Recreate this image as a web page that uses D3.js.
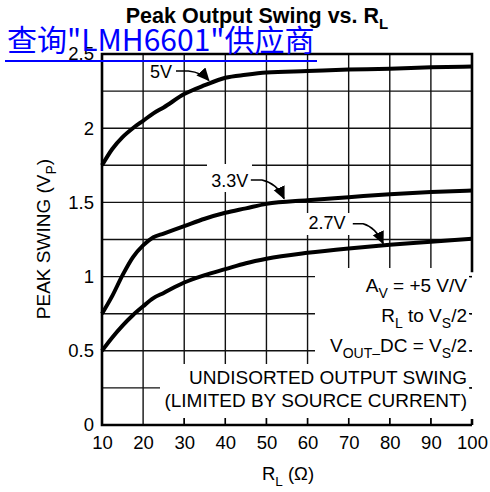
<!DOCTYPE html>
<html>
<head>
<meta charset="utf-8">
<script src="https://cdn.jsdelivr.net/npm/d3@7"></script>
<style>
  body { margin: 0; background: #fff; }
  text { font-family: "Liberation Sans", Arial, Helvetica, sans-serif; fill: #000; }
</style>
</head>
<body>
<script>
// load resistance (ohm) and peak swing (V) per supply voltage
var rl       = [10, 12.5, 15, 17.5, 20, 22.5, 25, 30, 35, 40, 45, 50, 60, 70, 80, 90, 100];
var swing5V  = [1.75, 1.86, 1.94, 2.00, 2.05, 2.10, 2.14, 2.23, 2.29, 2.34, 2.36, 2.375, 2.385, 2.395, 2.40, 2.41, 2.415];
var swing33V = [0.75, 0.87, 1.01, 1.13, 1.21, 1.265, 1.29, 1.34, 1.39, 1.43, 1.46, 1.49, 1.515, 1.535, 1.555, 1.57, 1.58];
var swing27V = [0.50, 0.59, 0.67, 0.74, 0.80, 0.855, 0.89, 0.96, 1.01, 1.05, 1.09, 1.12, 1.16, 1.19, 1.215, 1.235, 1.255];
var seriesNames = ["5V", "3.3V", "2.7V"];

var xTicks = [10, 20, 30, 40, 50, 60, 70, 80, 90, 100];
var yTicks = [0, 0.5, 1, 1.5, 2, 2.5];
var yGrid  = [0.25, 0.5, 0.75, 1, 1.25, 1.5, 1.75, 2, 2.25];
var rightTicks = [0.25, 0.5, 0.75, 1];
var bottomTicks = [30, 40, 50, 60, 70, 80, 90];

var width = 490, height = 492;
var pLeft = 102, pRight = 472, pTop = 54, pBottom = 425;

var svg = d3.select("body").append("svg")
    .attr("width", width)
    .attr("height", height);

var x = d3.scaleLinear().domain([10, 100]).range([pLeft, pRight]);
var y = d3.scaleLinear().domain([0, 2.5]).range([pBottom, pTop]);

var defs = svg.append("defs");
defs.append("marker")
    .attr("id", "arrow")
    .attr("markerUnits", "userSpaceOnUse")
    .attr("markerWidth", 14).attr("markerHeight", 14)
    .attr("refX", 12).attr("refY", 6)
    .attr("orient", "auto")
  .append("path")
    .attr("d", "M0,0 L13,6 L0,12 Z")
    .attr("fill", "#000");

// grid
var grid = svg.append("g").attr("stroke", "#111").attr("stroke-width", 1.4);
grid.selectAll(".vg").data(xTicks.slice(1, -1)).enter().append("line")
    .attr("x1", d => x(d)).attr("x2", d => x(d))
    .attr("y1", pTop).attr("y2", pBottom);
grid.selectAll(".hg").data(yGrid).enter().append("line")
    .attr("x1", pLeft).attr("x2", pRight)
    .attr("y1", d => y(d)).attr("y2", d => y(d));

// white areas behind labels and notes
var masks = [
  [315, 268, 470, 418],
  [160, 364, 470, 418],
  [207, 164, 252, 192],
  [305, 213, 352, 235]
];
svg.append("g").selectAll("rect").data(masks).enter().append("rect")
    .attr("x", d => d[0]).attr("y", d => d[1])
    .attr("width", d => d[2] - d[0]).attr("height", d => d[3] - d[1])
    .attr("fill", "#fff");

// frame
var frame = svg.append("g").attr("stroke", "#000").attr("stroke-width", 2.6).attr("fill", "none");
frame.append("path")
    .attr("d", "M" + pRight + "," + y(1.03) + " L" + pRight + "," + pTop + " L" + pLeft + "," + pTop +
               " L" + pLeft + "," + pBottom + " L" + pRight + "," + pBottom);
frame.append("line").attr("x1", pRight).attr("x2", pRight).attr("y1", pBottom).attr("y2", pBottom - 6);
svg.append("g").attr("stroke", "#000").attr("stroke-width", 1.4)
  .selectAll("line").data(bottomTicks).enter().append("line")
    .attr("x1", d => x(d)).attr("x2", d => x(d))
    .attr("y1", pBottom).attr("y2", pBottom - 7);
svg.append("g").attr("stroke", "#000").attr("stroke-width", 1.4)
  .selectAll("line").data(rightTicks).enter().append("line")
    .attr("x1", pRight).attr("x2", pRight - 3)
    .attr("y1", d => y(d)).attr("y2", d => y(d));

// axes labels
var xAxis = svg.append("g")
    .attr("transform", "translate(0," + pBottom + ")")
    .call(d3.axisBottom(x).tickValues(xTicks).tickSize(0).tickPadding(11));
xAxis.select(".domain").remove();
xAxis.selectAll("text").attr("font-size", 18.5).attr("font-family", null);

var yAxis = svg.append("g")
    .attr("transform", "translate(" + pLeft + ",0)")
    .call(d3.axisLeft(y).tickValues(yTicks).tickSize(0).tickPadding(8)
      .tickFormat(d => d));
yAxis.select(".domain").remove();
yAxis.selectAll("text").attr("font-size", 18.5).attr("font-family", null);

// curves
var line = d3.line()
    .x(d => x(d[0]))
    .y(d => y(d[1]))
    .curve(d3.curveMonotoneX);
[swing5V, swing33V, swing27V].forEach(function(s) {
  svg.append("path")
      .datum(rl.map((r, i) => [r, s[i]]))
      .attr("d", line)
      .attr("fill", "none")
      .attr("stroke", "#000")
      .attr("stroke-width", 4)
      .attr("stroke-linejoin", "round");
});

// curve labels with arrows (data coordinates)
var curveLabels = [
  { text: seriesNames[0], tx: 21.7, ty: 2.335, arrow: [[28.0, 2.385], [31.0, 2.385], [34.3, 2.375], [36.0, 2.322]] },
  { text: seriesNames[1], tx: 36.6, ty: 1.605, arrow: [[46.2, 1.651], [48.9, 1.651], [52.6, 1.628], [54.3, 1.525]] },
  { text: seriesNames[2], tx: 60.2, ty: 1.322, arrow: [[71.0, 1.356], [73.5, 1.356], [76.6, 1.332], [78.4, 1.222]] }
];
curveLabels.forEach(function(c) {
  svg.append("text")
      .attr("x", x(c.tx)).attr("y", y(c.ty))
      .attr("font-size", 18)
      .text(c.text);
  var p = c.arrow.map(d => [x(d[0]), y(d[1])]);
  svg.append("path")
      .attr("d", "M" + p[0] + " L" + p[1] + " Q" + p[2] + " " + p[3])
      .attr("fill", "none")
      .attr("stroke", "#000")
      .attr("stroke-width", 1.6)
      .attr("marker-end", "url(#arrow)");
});

// notes, right aligned
var noteX = 467;
function rich(sel, parts, size, subSize) {
  var shift = 0;
  parts.forEach(function(p) {
    var sub = p[1] === 1;
    var target = sub ? 6 : 0;
    sel.append("tspan")
        .attr("dy", target - shift)
        .attr("font-size", sub ? subSize : size)
        .text(p[0]);
    shift = target;
  });
}
var notes = [
  { y: 292, parts: [["A", 0], ["V", 1], [" = +5 V/V", 0]] },
  { y: 322, parts: [["R", 0], ["L", 1], [" to V", 0], ["S", 1], ["/2", 0]] },
  { y: 352, parts: [["V", 0], ["OUT–", 1], ["DC = V", 0], ["S", 1], ["/2", 0]] },
  { y: 384, parts: [["UNDISORTED OUTPUT SWING", 0]] },
  { y: 407, parts: [["(LIMITED BY SOURCE CURRENT)", 0]] }
];
notes.forEach(function(n) {
  var t = svg.append("text")
      .attr("x", noteX).attr("y", n.y)
      .attr("text-anchor", "end");
  rich(t, n.parts, 19, 14);
});

// title
var title = svg.append("text")
    .attr("x", 257).attr("y", 23)
    .attr("text-anchor", "middle")
    .attr("font-weight", "bold");
rich(title, [["Peak Output Swing vs. R", 0], ["L", 1]], 21.5, 15);

// x label
var xl = svg.append("text")
    .attr("x", 288).attr("y", 480)
    .attr("text-anchor", "middle");
rich(xl, [["R", 0], ["L", 1], [" (Ω)", 0]], 18.5, 13.5);

// y label
var yl = svg.append("text")
    .attr("transform", "translate(50,239) rotate(-90)")
    .attr("text-anchor", "middle");
rich(yl, [["PEAK SWING (V", 0], ["P", 1], [")", 0]], 19, 14);

// watermark link
svg.append("text")
    .attr("x", 7).attr("y", 51)
    .attr("font-size", 30)
    .style("font-family", "'Noto Sans CJK SC', sans-serif")
    .style("fill", "#0000ff")
    .text("查询\"LMH6601\"供应商");
svg.append("line")
    .attr("x1", 5).attr("x2", 317)
    .attr("y1", 61).attr("y2", 61)
    .attr("stroke", "#0000ff")
    .attr("stroke-width", 2);
</script>
</body>
</html>
